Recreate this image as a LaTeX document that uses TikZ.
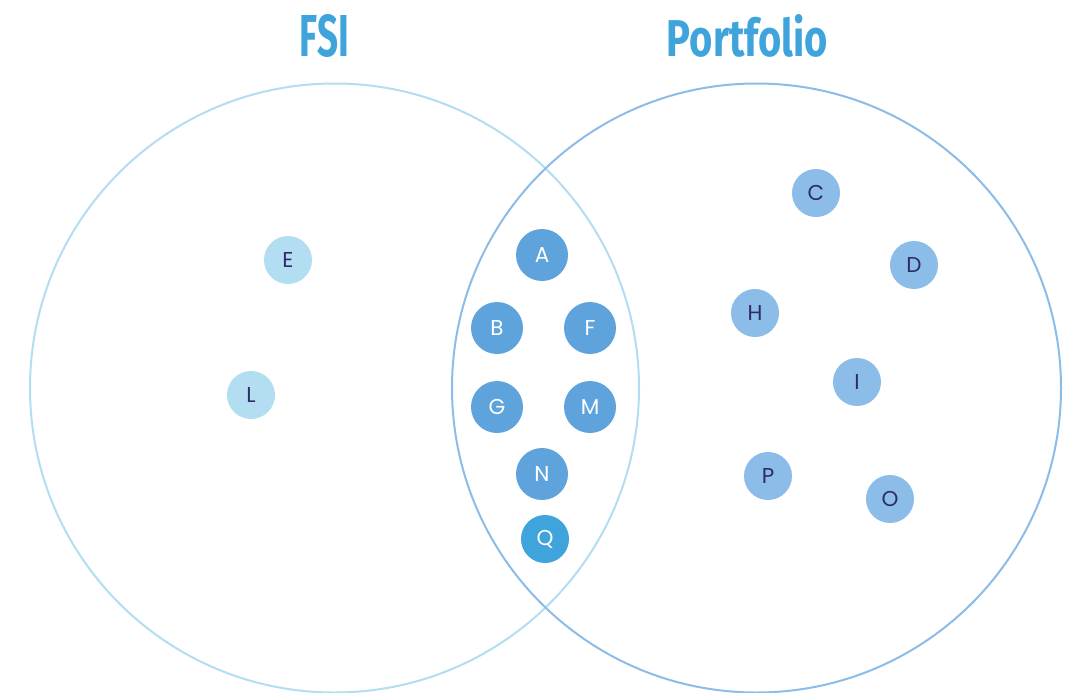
\documentclass[tikz,border=0pt]{standalone}
\usepackage{fontspec}
\setmainfont{Poppins}
\newfontfamily\headfont{Fira Sans}
\usepackage{tikz}

\definecolor{fsiline}{HTML}{B3DEF2}
\definecolor{portline}{HTML}{8BBDE8}
\definecolor{fsifill}{HTML}{B3DEF2}
\definecolor{bothfill}{HTML}{5FA3DC}
\definecolor{qfill}{HTML}{3FA4DC}
\definecolor{portfill}{HTML}{8BBDE8}
\definecolor{navy}{HTML}{2E2A6B}
\definecolor{headblue}{HTML}{3FA4DC}

\tikzset{
  dot/.style={circle,inner sep=0pt,minimum size=48pt,font=\fontsize{21.5}{21.5}\selectfont,text=navy},
  fsidot/.style={dot,fill=fsifill},
  portdot/.style={dot,fill=portfill},
  bothdot/.style={dot,fill=bothfill,minimum size=52pt,text=white},
  head/.style={text=headblue,inner sep=0pt,font=\headfont\bfseries}
}

\begin{document}
\begin{tikzpicture}[x=1pt,y=-1pt]
      \useasboundingbox (0,0) rectangle (1068,693);
      \fill[white] (0,0) rectangle (1068,693);
      % the two sets
      \node[circle,draw=fsiline,line width=2pt,minimum size=609pt,inner sep=0pt] (fsi) at (334.5,388) {};
      \node[circle,draw=portline,line width=2pt,minimum size=609pt,inner sep=0pt] (portfolio) at (756.5,388) {};
      \node[head] (fsihead) at (324.5,36) {\resizebox{49pt}{42pt}{FSI}};
      \node[head] (porthead) at (747.5,36) {\resizebox{161pt}{42pt}{Portfolio}};
      % only FSI
      \node[fsidot] (e) at (288,260) {E};
      \node[fsidot] (l) at (251,395) {L};
      % both
      \node[bothdot] (a) at (542,255) {A};
      \node[bothdot] (b) at (497,328) {B};
      \node[bothdot] (f) at (590,328) {F};
      \node[bothdot] (g) at (497,407) {G};
      \node[bothdot] (m) at (590,407) {M};
      \node[bothdot] (n) at (542,474) {N};
      \node[bothdot,fill=qfill,minimum size=48pt] (q) at (545,539) {Q};
      % only portfolio
      \node[portdot] (c) at (816,193) {C};
      \node[portdot] (d) at (914,265) {D};
      \node[portdot] (h) at (755,313) {H};
      \node[portdot] (i) at (857,382) {I};
      \node[portdot] (p) at (768,476) {P};
      \node[portdot] (o) at (890,499) {O};
\end{tikzpicture}
\end{document}
